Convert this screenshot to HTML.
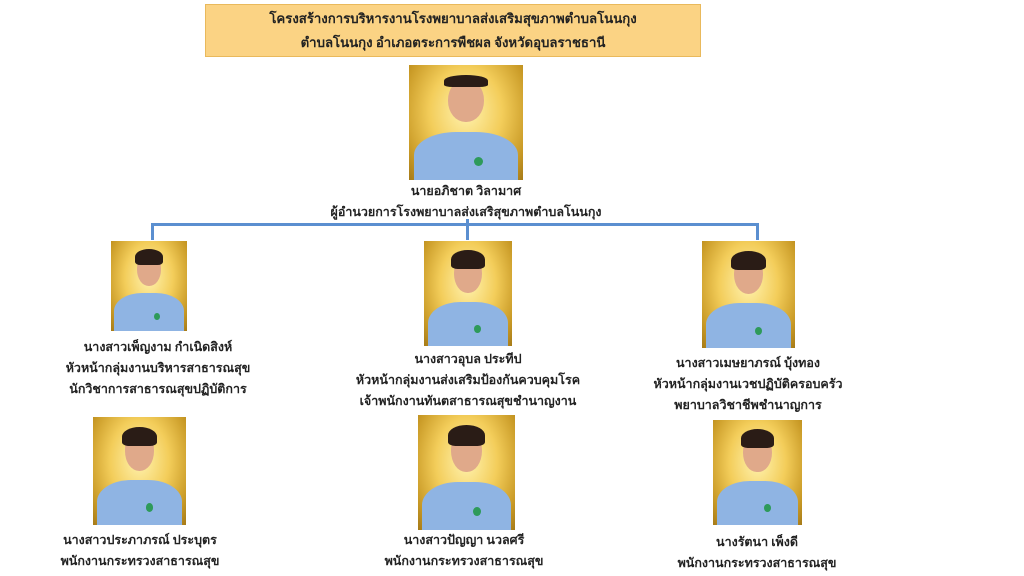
<!DOCTYPE html>
<html><head><meta charset="utf-8"><style>
body{margin:0;width:1024px;height:576px;background:#fff;position:relative;overflow:hidden;font-family:"Liberation Serif","Noto Serif CJK SC",serif;}
.t{position:absolute;width:400px;text-align:center;font-weight:bold;font-size:12.5px;color:#222;line-height:21px;white-space:nowrap}
.p{position:absolute;overflow:hidden;background:radial-gradient(ellipse at 50% 40%,#fff3b0 0%,#f3cd5a 45%,#c99a26 80%,#a57a18 100%)}
.p .s{position:absolute;left:4%;right:4%;bottom:-8%;height:50%;background:#8fb4e3;border-radius:40% 40% 0 0}
.p .h{position:absolute;left:34%;width:32%;top:12%;height:38%;background:#e0a98a;border-radius:48%}
.p .hr{position:absolute;left:31%;width:38%;top:9%;height:18%;background:#2a1c16;border-radius:50% 50% 20% 20%}
.p .b{position:absolute;left:57%;bottom:12%;width:8%;height:8%;background:#2e9a5a;border-radius:50%}
.l{position:absolute;background:#5b8fd0}
</style></head><body>
<div style="position:absolute;left:205px;top:4px;width:496px;height:53px;background:#fbd384;border:1px solid #e9b95c;box-sizing:border-box"></div>
<div class="t" style="left:253px;top:7px;font-size:13.2px;line-height:24px">โครงสร้างการบริหารงานโรงพยาบาลส่งเสริมสุขภาพตำบลโนนกุง<br>ตำบลโนนกุง อำเภอตระการพืชผล จังหวัดอุบลราชธานี</div>

<div class="p" style="left:409px;top:65px;width:114px;height:115px"><div class="s"></div><div class="h"></div><div class="hr" style="height:10%"></div><div class="b"></div></div>
<div class="t" style="left:266px;top:181px">นายอภิชาต วิลามาศ<br>ผู้อำนวยการโรงพยาบาลส่งเสริสุขภาพตำบลโนนกุง</div>

<div class="l" style="left:151px;top:223px;width:608px;height:3px"></div>
<div class="l" style="left:466px;top:219px;width:3px;height:6px"></div>
<div class="l" style="left:151px;top:223px;width:3px;height:17px"></div>
<div class="l" style="left:466px;top:223px;width:3px;height:17px"></div>
<div class="l" style="left:756px;top:223px;width:3px;height:17px"></div>

<div class="p" style="left:111px;top:241px;width:76px;height:90px"><div class="s"></div><div class="h"></div><div class="hr"></div><div class="b"></div></div>
<div class="t" style="left:-42px;top:337px">นางสาวเพ็ญงาม กำเนิดสิงห์<br>หัวหน้ากลุ่มงานบริหารสาธารณสุข<br>นักวิชาการสาธารณสุขปฏิบัติการ</div>

<div class="p" style="left:424px;top:241px;width:88px;height:105px"><div class="s"></div><div class="h"></div><div class="hr"></div><div class="b"></div></div>
<div class="t" style="left:268px;top:349px">นางสาวอุบล ประทีป<br>หัวหน้ากลุ่มงานส่งเสริมป้องกันควบคุมโรค<br>เจ้าพนักงานทันตสาธารณสุขชำนาญงาน</div>

<div class="p" style="left:702px;top:241px;width:93px;height:107px"><div class="s"></div><div class="h"></div><div class="hr"></div><div class="b"></div></div>
<div class="t" style="left:548px;top:353px">นางสาวเมษยาภรณ์ บุ้งทอง<br>หัวหน้ากลุ่มงานเวชปฏิบัติครอบครัว<br>พยาบาลวิชาชีพชำนาญการ</div>

<div class="p" style="left:93px;top:417px;width:93px;height:108px"><div class="s"></div><div class="h"></div><div class="hr"></div><div class="b"></div></div>
<div class="t" style="left:-60px;top:530px">นางสาวประภาภรณ์ ประบุตร<br>พนักงานกระทรวงสาธารณสุข</div>

<div class="p" style="left:418px;top:415px;width:97px;height:115px"><div class="s"></div><div class="h"></div><div class="hr"></div><div class="b"></div></div>
<div class="t" style="left:264px;top:530px">นางสาวปัญญา นวลศรี<br>พนักงานกระทรวงสาธารณสุข</div>

<div class="p" style="left:713px;top:420px;width:89px;height:105px"><div class="s"></div><div class="h"></div><div class="hr"></div><div class="b"></div></div>
<div class="t" style="left:557px;top:532px">นางรัตนา เพ็งดี<br>พนักงานกระทรวงสาธารณสุข</div>
</body></html>
